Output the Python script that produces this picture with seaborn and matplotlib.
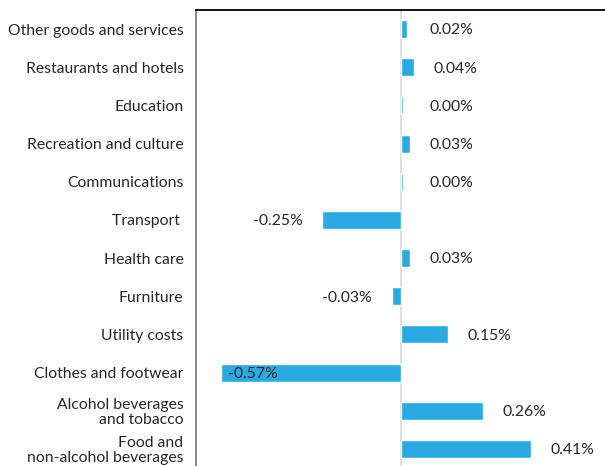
import matplotlib
matplotlib.use('Agg')
import matplotlib.pyplot as plt
import seaborn as sns
import pandas as pd

categories = ['Other goods and services', 'Restaurants and hotels', 'Education',
              'Recreation and culture', 'Communications', 'Transport ',
              'Health care', 'Furniture', 'Utility costs', 'Clothes and footwear',
              'Alcohol beverages\nand tobacco', 'Food and\nnon-alcohol beverages']
values = [0.02, 0.04, 0.006, 0.03, 0.006, -0.25, 0.03, -0.03, 0.15, -0.57, 0.26, 0.41]
labels = ['0.02%', '0.04%', '0.00%', '0.03%', '0.00%', '-0.25%', '0.03%', '-0.03%',
          '0.15%', '-0.57%', '0.26%', '0.41%']

df = pd.DataFrame({'category': categories, 'value': values})

sns.set_style('white')
plt.rcParams['font.family'] = ['Lato', 'DejaVu Sans']

W, H = 605, 466
fig = plt.figure(figsize=(W / 100, H / 100), dpi=100)
# axes spills past the right and bottom edge, like the cropped original
ax = fig.add_axes([196 / W, 1 - 468 / H, 420 / W, 458 / H])

sns.barplot(data=df, x='value', y='category', orient='h', color='#29abe2',
            width=0.47, saturation=1, ax=ax)

ax.set_xlim(-205 / 316, 215 / 316)
ax.set_ylim(11.5, -0.5)
ax.axvline(0, color='#d9d9d9', lw=1.2, zorder=0)

fs = 11.3
for i, (v, lab) in enumerate(zip(values, labels)):
    if v < -0.5:
        ax.annotate(lab, (v, i), xytext=(5, -1), textcoords='offset points',
                    ha='left', va='center', fontsize=fs)
    elif v < 0:
        ax.annotate(lab, (v, i), xytext=(-14, -1), textcoords='offset points',
                    ha='right', va='center', fontsize=fs)
    else:
        ax.annotate(lab, (max(v, 0.03), i), xytext=(14, -1), textcoords='offset points',
                    ha='left', va='center', fontsize=fs)

ax.set_xlabel('')
ax.set_ylabel('')
ax.set_xticks([])
ax.tick_params(axis='y', length=0, pad=9, labelsize=fs)
for lbl in ax.get_yticklabels():
    lbl.set_linespacing(1.05)

ax.spines['left'].set_color('#7f7f7f')
ax.spines['left'].set_linewidth(1.3)
ax.spines['top'].set_color('black')
ax.spines['top'].set_linewidth(1.3)
ax.spines['right'].set_visible(False)
ax.spines['bottom'].set_visible(False)

fig.savefig('out.png', dpi=100)
